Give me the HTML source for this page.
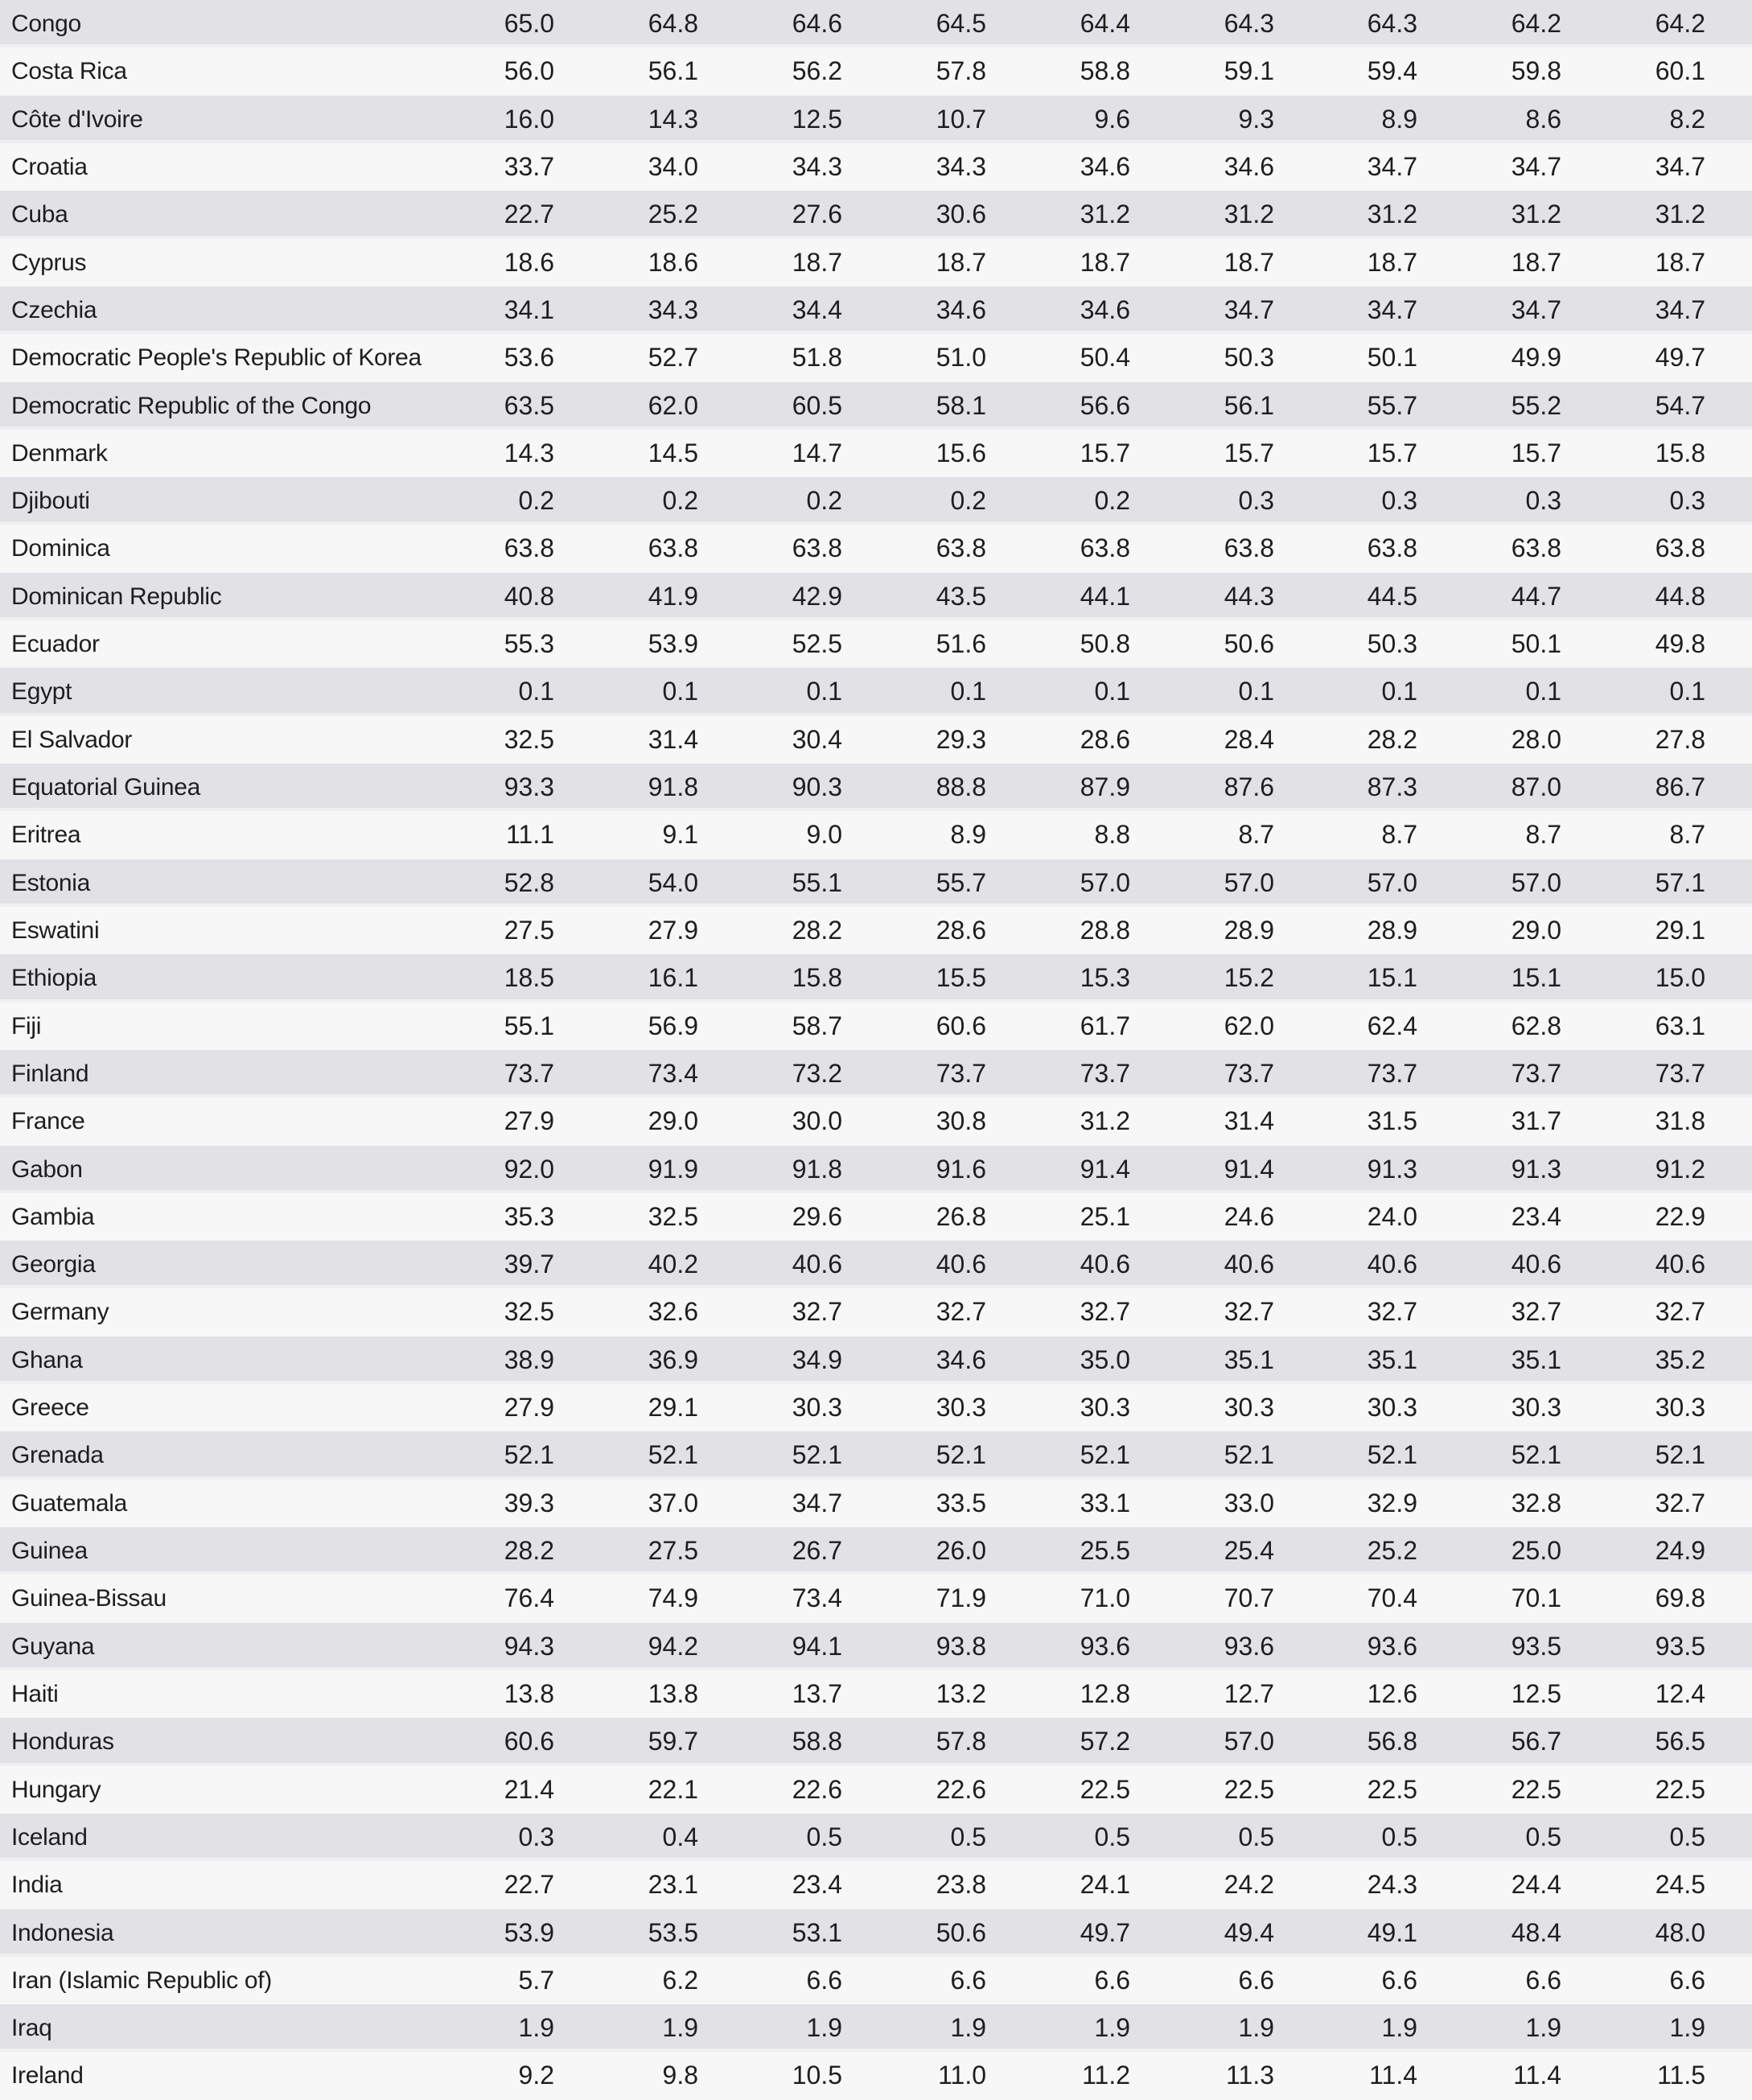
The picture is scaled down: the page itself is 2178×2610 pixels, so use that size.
<!DOCTYPE html><html><head><style>
body{margin:0;width:2178px;height:2610px;overflow:hidden;background:#f7f7f7;font-family:"Liberation Sans",sans-serif;color:#1e1e1e}
.r{height:59.32px;position:relative;font-size:32px;line-height:59px;box-sizing:border-box}
.r:nth-child(odd){background:#e2e2e6;border-bottom:4px solid #efeff1}
.n{position:absolute;left:14px;font-size:30px;letter-spacing:-0.3px}
.v{position:absolute;text-align:right;width:150px}
</style></head><body><div id="t"></div>
<script>
const d=`Congo|65.0 64.8 64.6 64.5 64.4 64.3 64.3 64.2 64.2
Costa Rica|56.0 56.1 56.2 57.8 58.8 59.1 59.4 59.8 60.1
Côte d'Ivoire|16.0 14.3 12.5 10.7 9.6 9.3 8.9 8.6 8.2
Croatia|33.7 34.0 34.3 34.3 34.6 34.6 34.7 34.7 34.7
Cuba|22.7 25.2 27.6 30.6 31.2 31.2 31.2 31.2 31.2
Cyprus|18.6 18.6 18.7 18.7 18.7 18.7 18.7 18.7 18.7
Czechia|34.1 34.3 34.4 34.6 34.6 34.7 34.7 34.7 34.7
Democratic People's Republic of Korea|53.6 52.7 51.8 51.0 50.4 50.3 50.1 49.9 49.7
Democratic Republic of the Congo|63.5 62.0 60.5 58.1 56.6 56.1 55.7 55.2 54.7
Denmark|14.3 14.5 14.7 15.6 15.7 15.7 15.7 15.7 15.8
Djibouti|0.2 0.2 0.2 0.2 0.2 0.3 0.3 0.3 0.3
Dominica|63.8 63.8 63.8 63.8 63.8 63.8 63.8 63.8 63.8
Dominican Republic|40.8 41.9 42.9 43.5 44.1 44.3 44.5 44.7 44.8
Ecuador|55.3 53.9 52.5 51.6 50.8 50.6 50.3 50.1 49.8
Egypt|0.1 0.1 0.1 0.1 0.1 0.1 0.1 0.1 0.1
El Salvador|32.5 31.4 30.4 29.3 28.6 28.4 28.2 28.0 27.8
Equatorial Guinea|93.3 91.8 90.3 88.8 87.9 87.6 87.3 87.0 86.7
Eritrea|11.1 9.1 9.0 8.9 8.8 8.7 8.7 8.7 8.7
Estonia|52.8 54.0 55.1 55.7 57.0 57.0 57.0 57.0 57.1
Eswatini|27.5 27.9 28.2 28.6 28.8 28.9 28.9 29.0 29.1
Ethiopia|18.5 16.1 15.8 15.5 15.3 15.2 15.1 15.1 15.0
Fiji|55.1 56.9 58.7 60.6 61.7 62.0 62.4 62.8 63.1
Finland|73.7 73.4 73.2 73.7 73.7 73.7 73.7 73.7 73.7
France|27.9 29.0 30.0 30.8 31.2 31.4 31.5 31.7 31.8
Gabon|92.0 91.9 91.8 91.6 91.4 91.4 91.3 91.3 91.2
Gambia|35.3 32.5 29.6 26.8 25.1 24.6 24.0 23.4 22.9
Georgia|39.7 40.2 40.6 40.6 40.6 40.6 40.6 40.6 40.6
Germany|32.5 32.6 32.7 32.7 32.7 32.7 32.7 32.7 32.7
Ghana|38.9 36.9 34.9 34.6 35.0 35.1 35.1 35.1 35.2
Greece|27.9 29.1 30.3 30.3 30.3 30.3 30.3 30.3 30.3
Grenada|52.1 52.1 52.1 52.1 52.1 52.1 52.1 52.1 52.1
Guatemala|39.3 37.0 34.7 33.5 33.1 33.0 32.9 32.8 32.7
Guinea|28.2 27.5 26.7 26.0 25.5 25.4 25.2 25.0 24.9
Guinea-Bissau|76.4 74.9 73.4 71.9 71.0 70.7 70.4 70.1 69.8
Guyana|94.3 94.2 94.1 93.8 93.6 93.6 93.6 93.5 93.5
Haiti|13.8 13.8 13.7 13.2 12.8 12.7 12.6 12.5 12.4
Honduras|60.6 59.7 58.8 57.8 57.2 57.0 56.8 56.7 56.5
Hungary|21.4 22.1 22.6 22.6 22.5 22.5 22.5 22.5 22.5
Iceland|0.3 0.4 0.5 0.5 0.5 0.5 0.5 0.5 0.5
India|22.7 23.1 23.4 23.8 24.1 24.2 24.3 24.4 24.5
Indonesia|53.9 53.5 53.1 50.6 49.7 49.4 49.1 48.4 48.0
Iran (Islamic Republic of)|5.7 6.2 6.6 6.6 6.6 6.6 6.6 6.6 6.6
Iraq|1.9 1.9 1.9 1.9 1.9 1.9 1.9 1.9 1.9
Ireland|9.2 9.8 10.5 11.0 11.2 11.3 11.4 11.4 11.5`;
const R=[689,868,1047,1226,1405,1584,1762,1941,2120];
let h='';
d.split('\n').forEach(l=>{const[n,v]=l.split('|');h+='<div class="r"><span class="n">'+n+'</span>';v.split(' ').forEach((x,i)=>{h+='<span class="v" style="left:'+(R[i]-150)+'px">'+x+'</span>'});h+='</div>'});
document.getElementById('t').innerHTML=h;
</script></body></html>
